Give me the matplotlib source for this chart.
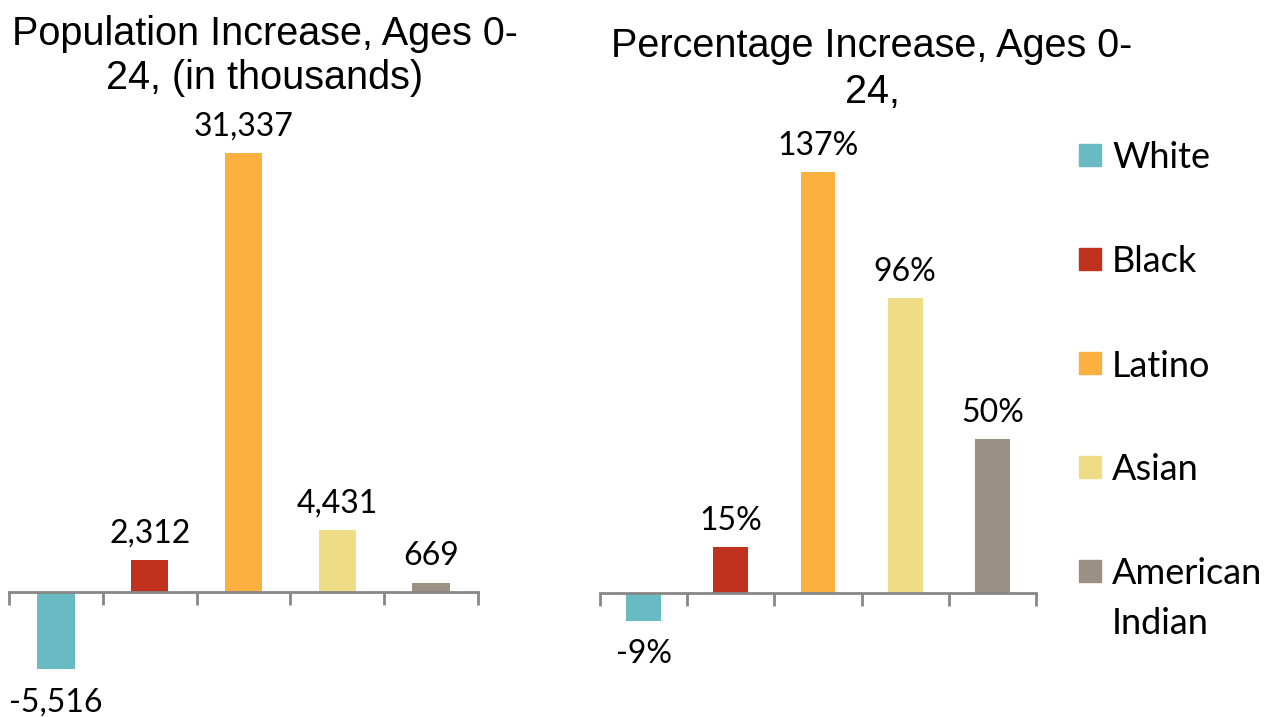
import matplotlib

matplotlib.use("Agg")
import matplotlib.pyplot as plt
from matplotlib.patches import Rectangle

groups = ["White", "Black", "Latino", "Asian", "American Indian"]
pop_increase = [-5516, 2312, 31337, 4431, 669]
pop_labels = ["-5,516", "2,312", "31,337", "4,431", "669"]
pct_increase = [-9, 15, 137, 96, 50]
pct_labels = ["-9%", "15%", "137%", "96%", "50%"]
colors = ["#68BBC3", "#C0311E", "#FBB040", "#EEDC87", "#9A9083"]

AXIS_GRAY = "#878787"
LABEL_FONT = "Lato"
TITLE_FONT = "Liberation Sans"


def bar_panel(ax, values, labels, ylim):
    x = range(len(values))
    bars = ax.bar(x, values, width=0.4, color=colors, zorder=2)
    ax.set_xlim(-0.5, len(values) - 0.5)
    ax.set_ylim(*ylim)
    for side in ("top", "right", "left"):
        ax.spines[side].set_visible(False)
    ax.spines["bottom"].set_position(("data", 0))
    ax.spines["bottom"].set_color(AXIS_GRAY)
    ax.spines["bottom"].set_linewidth(2)
    ax.set_yticks([])
    ax.set_xticks([i - 0.5 for i in range(len(values) + 1)])
    ax.set_xticklabels([])
    ax.tick_params(axis="x", direction="out", length=9, width=2, color=AXIS_GRAY)
    for bar, val, lab in zip(bars, values, labels):
        cx = bar.get_x() + bar.get_width() / 2
        if val >= 0:
            ax.annotate(lab, (cx, val), xytext=(0, 8), textcoords="offset points",
                        ha="center", va="bottom", fontsize=23, family=LABEL_FONT)
        else:
            ax.annotate(lab, (cx, val), xytext=(0, -13), textcoords="offset points",
                        ha="center", va="top", fontsize=23, family=LABEL_FONT)


fig = plt.figure(figsize=(12.66, 7.17), dpi=100)

ax1 = fig.add_axes([9 / 1266, 1 - 690 / 717, 469 / 1266, 546.3 / 717])
bar_panel(ax1, pop_increase, pop_labels, (-7000, 32000))

ax2 = fig.add_axes([600 / 1266, 1 - 654.5 / 717, 436 / 1266, 507.1 / 717])
bar_panel(ax2, pct_increase, pct_labels, (-20, 145))

fig.text(265 / 1266, 1 - 56 / 717, "Population Increase, Ages 0-\n24, (in thousands)",
         ha="center", va="center", fontsize=28.5, family=TITLE_FONT, linespacing=1.2)
fig.text(872 / 1266, 1 - 69 / 717, "Percentage Increase, Ages 0-\n24,",
         ha="center", va="center", fontsize=28.5, family=TITLE_FONT, linespacing=1.25)

# legend drawn by hand so the marker sits on the first line of a wrapped label
for i, (name, col) in enumerate(zip(groups, colors)):
    yc = 1 - (155 + 104 * i) / 717
    fig.add_artist(Rectangle((1079 / 1266, yc - 11 / 717), 22 / 1266, 22 / 717,
                             transform=fig.transFigure, color=col))
    for j, line in enumerate(name.split(" ")):
        fig.text(1112 / 1266, yc - 50 * j / 717, line, ha="left", va="center_baseline",
                 fontsize=26, family=LABEL_FONT)

fig.savefig("out.png", dpi=100)
